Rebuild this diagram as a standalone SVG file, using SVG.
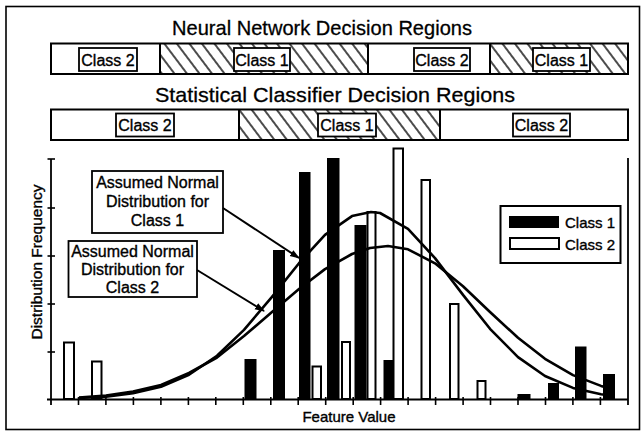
<svg xmlns="http://www.w3.org/2000/svg" width="644" height="434" viewBox="0 0 644 434">
  <defs>
    <style>
      text { font-family: "Liberation Sans", Arial, Helvetica, sans-serif; fill: #000; stroke: #000; stroke-width: 0.35; }
      .title { font-size: 21px; stroke-width: 0.3; }
      .lbl { font-size: 16px; text-anchor: middle; }
      .note { font-size: 16px; text-anchor: middle; }
      .legend { font-size: 15px; }
      .axis-label { font-size: 15.5px; text-anchor: middle; }
      .frame { fill: none; stroke: #000; stroke-width: 1.6; }
      .band { fill: none; stroke: #000; stroke-width: 2; }
      .hatched { fill: url(#hatch); stroke: none; }
      .divider { stroke: #000; stroke-width: 2; }
      .tag { fill: #fff; stroke: #000; stroke-width: 1.8; }
      .axis { stroke: #000; stroke-width: 1.8; fill: none; }
      .tick { stroke: #000; stroke-width: 1.6; }
      .c1 { fill: #000; }
      .c2 { fill: #fff; stroke: #000; stroke-width: 2; }
      .curve { fill: none; stroke: #000; stroke-width: 2.6; stroke-linejoin: round; }
      .arrow { stroke: #000; stroke-width: 2; fill: none; marker-end: url(#arrowhead); }
    </style>
    <pattern id="hatch" patternUnits="userSpaceOnUse" width="10" height="10" patternTransform="rotate(-37)">
      <rect width="10" height="10" fill="#fff"/>
      <line x1="5" y1="-1" x2="5" y2="11" stroke="#000" stroke-width="1.4"/>
    </pattern>
    <marker id="arrowhead" viewBox="0 0 10 10" refX="9" refY="5" markerWidth="10" markerHeight="10" markerUnits="userSpaceOnUse" orient="auto">
      <path d="M0,1.5 L10,5 L0,8.5 z" fill="#000"/>
    </marker>
  </defs>

  <rect width="644" height="434" fill="#fff"/>
  <rect class="frame" x="6" y="6.5" width="633.5" height="423"/>

  <!-- Neural network decision regions -->
  <g id="nn-regions">
    <text class="title" x="172" y="35" textLength="300" lengthAdjust="spacingAndGlyphs">Neural Network Decision Regions</text>
    <rect x="51" y="43.5" width="577" height="30.5" fill="#fff"/>
    <rect class="hatched" x="160" y="43.5" width="208" height="30.5"/>
    <rect class="hatched" x="490" y="43.5" width="138" height="30.5"/>
    <line class="divider" x1="160" y1="43.5" x2="160" y2="74"/>
    <line class="divider" x1="368" y1="43.5" x2="368" y2="74"/>
    <line class="divider" x1="490" y1="43.5" x2="490" y2="74"/>
    <rect class="band" x="51" y="43.5" width="577" height="30.5"/>
    <rect class="tag" x="79" y="48" width="58" height="23"/>
    <text class="lbl" x="108" y="65.5">Class 2</text>
    <rect class="tag" x="234" y="48" width="56" height="23"/>
    <text class="lbl" x="262" y="65.5">Class 1</text>
    <rect class="tag" x="414" y="48" width="56" height="23"/>
    <text class="lbl" x="442" y="65.5">Class 2</text>
    <rect class="tag" x="533" y="48" width="57" height="23"/>
    <text class="lbl" x="561.5" y="65.5">Class 1</text>
  </g>

  <!-- Statistical classifier decision regions -->
  <g id="stat-regions">
    <text class="title" x="155" y="102" textLength="360" lengthAdjust="spacingAndGlyphs">Statistical Classifier Decision Regions</text>
    <rect x="51" y="109.5" width="577" height="30.5" fill="#fff"/>
    <rect class="hatched" x="239" y="109.5" width="201" height="30.5"/>
    <line class="divider" x1="239" y1="109.5" x2="239" y2="140"/>
    <line class="divider" x1="440" y1="109.5" x2="440" y2="140"/>
    <rect class="band" x="51" y="109.5" width="577" height="30.5"/>
    <rect class="tag" x="116" y="113.5" width="58" height="23"/>
    <text class="lbl" x="145" y="131">Class 2</text>
    <rect class="tag" x="318" y="113.5" width="58" height="23"/>
    <text class="lbl" x="347" y="131">Class 1</text>
    <rect class="tag" x="513" y="113.5" width="57" height="23"/>
    <text class="lbl" x="541.5" y="131">Class 2</text>
  </g>

  <!-- Histogram bars -->
  <g id="class1-bars">
    <rect class="c1" x="244.5" y="359" width="12" height="40"/>
    <rect class="c1" x="273" y="250" width="12" height="149"/>
    <rect class="c1" x="299" y="172" width="11.5" height="227"/>
    <rect class="c1" x="327" y="158" width="12.5" height="241"/>
    <rect class="c1" x="354.5" y="225" width="12" height="174"/>
    <rect class="c1" x="383.5" y="360" width="11.5" height="39"/>
    <rect class="c1" x="517.5" y="394" width="13" height="5"/>
    <rect class="c1" x="548" y="383" width="11" height="16"/>
    <rect class="c1" x="575" y="346.5" width="11.5" height="52.5"/>
    <rect class="c1" x="603" y="374" width="12" height="25"/>
  </g>
  <g id="class2-bars">
    <rect class="c2" x="64" y="342.5" width="10" height="56.5"/>
    <rect class="c2" x="92" y="361.5" width="9.5" height="37.5"/>
    <rect class="c2" x="312.5" y="366.5" width="8.5" height="32.5"/>
    <rect class="c2" x="342" y="342" width="8" height="57"/>
    <rect class="c2" x="367.5" y="212" width="8" height="187"/>
    <rect class="c2" x="393.5" y="148.5" width="9.5" height="250.5"/>
    <rect class="c2" x="421.5" y="180" width="8.5" height="219"/>
    <rect class="c2" x="450" y="304" width="8.5" height="95"/>
    <rect class="c2" x="477.5" y="381" width="8" height="18"/>
  </g>

  <!-- Axes -->
  <g id="axes">
    <line class="axis" x1="51" y1="159" x2="51" y2="405"/>
    <line class="axis" x1="47" y1="399.5" x2="628" y2="399.5"/>
    <line class="axis" x1="628" y1="158" x2="628" y2="405"/>
    <g class="tick">
      <line x1="47.5" y1="159" x2="55" y2="159"/>
      <line x1="47.5" y1="208" x2="55" y2="208"/>
      <line x1="47.5" y1="256" x2="55" y2="256"/>
      <line x1="47.5" y1="304" x2="55" y2="304"/>
      <line x1="47.5" y1="352" x2="55" y2="352"/>
      <line x1="78.5" y1="397" x2="78.5" y2="405"/>
      <line x1="105.9" y1="397" x2="105.9" y2="405"/>
      <line x1="133.4" y1="397" x2="133.4" y2="405"/>
      <line x1="160.9" y1="397" x2="160.9" y2="405"/>
      <line x1="188.4" y1="397" x2="188.4" y2="405"/>
      <line x1="215.8" y1="397" x2="215.8" y2="405"/>
      <line x1="243.3" y1="397" x2="243.3" y2="405"/>
      <line x1="270.8" y1="397" x2="270.8" y2="405"/>
      <line x1="298.2" y1="397" x2="298.2" y2="405"/>
      <line x1="325.7" y1="397" x2="325.7" y2="405"/>
      <line x1="353.2" y1="397" x2="353.2" y2="405"/>
      <line x1="380.6" y1="397" x2="380.6" y2="405"/>
      <line x1="408.1" y1="397" x2="408.1" y2="405"/>
      <line x1="435.6" y1="397" x2="435.6" y2="405"/>
      <line x1="463.1" y1="397" x2="463.1" y2="405"/>
      <line x1="490.5" y1="397" x2="490.5" y2="405"/>
      <line x1="518" y1="397" x2="518" y2="405"/>
      <line x1="545.5" y1="397" x2="545.5" y2="405"/>
      <line x1="572.9" y1="397" x2="572.9" y2="405"/>
      <line x1="600.4" y1="397" x2="600.4" y2="405"/>
    </g>
    <text class="axis-label" transform="translate(42,262) rotate(-90)">Distribution Frequency</text>
    <text class="axis-label" x="349" y="422" style="font-size:15px">Feature Value</text>
  </g>

  <!-- Fitted normal curves -->
  <g id="curve-class1">
    <polyline class="curve" points="79,398 106,396.6 133,393.3 161,386.7 189,374.8 217,355.7 244,329.9 272,296.9 299,263.2 325,234.9 352,216.1 371,212 380,213 408,228.9 435,258.1 463,294.9 490,328.8 518,357.1 545,376 573,387.9 601,394.2 613,395.7"/>
  </g>
  <g id="curve-class2">
    <polyline class="curve" points="79,397.5 106,395.5 133,391.5 161,385 189,373 217,357.5 244,336 272,312 299,289 325,269.1 352,254 370,248 388,246 408,249.3 435,263.3 463,286.2 490,312 518,337.8 545,358.8 573,375.1 601,385.9 613,389.2"/>
  </g>

  <!-- Callout boxes -->
  <g id="note-class1">
    <rect class="tag" x="92" y="171" width="131" height="62"/>
    <text class="note" x="157.5" y="188">Assumed Normal</text>
    <text class="note" x="157.5" y="207">Distribution for</text>
    <text class="note" x="157.5" y="226">Class 1</text>
  </g>
  <g id="note-class2">
    <rect class="tag" x="68.5" y="241" width="128.5" height="56"/>
    <text class="note" x="132.5" y="256.5">Assumed Normal</text>
    <text class="note" x="132.5" y="274.5">Distribution for</text>
    <text class="note" x="132.5" y="292.5">Class 2</text>
  </g>

  <!-- Callout connectors -->
  <g id="connectors">
    <line class="arrow" x1="223" y1="208" x2="299" y2="258"/>
    <line class="arrow" x1="197" y1="270" x2="264" y2="311"/>
  </g>

  <!-- Legend -->
  <g id="legend">
    <rect x="500.5" y="206" width="120" height="57" fill="#fff" stroke="#000" stroke-width="2"/>
    <rect x="509" y="216" width="50" height="12" fill="#000"/>
    <rect x="510" y="238" width="49" height="11" fill="#fff" stroke="#000" stroke-width="2"/>
    <text class="legend" x="565" y="227.5">Class 1</text>
    <text class="legend" x="565" y="249.5">Class 2</text>
  </g>
</svg>
